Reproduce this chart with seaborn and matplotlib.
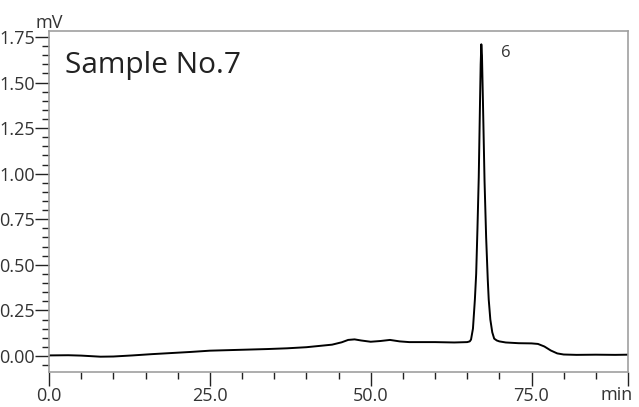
import matplotlib
matplotlib.use("Agg")
import matplotlib.pyplot as plt
import seaborn as sns
import pandas as pd
from matplotlib.ticker import MultipleLocator, FixedLocator

# ---- data ----
time_min = [0.0, 3.0, 5.0, 8.0, 10.0, 13.0, 16.0, 19.0, 22.0, 25.0, 28.0, 31.0,
            34.0, 37.0, 40.0, 42.0, 44.0, 45.5, 46.5, 47.5, 48.5, 50.0, 51.5,
            53.0, 54.5, 56.0, 60.0, 63.0, 65.0, 65.4, 65.6, 65.9, 66.2, 66.4,
            66.6, 66.8, 67.0, 67.1, 67.2, 67.3, 67.45, 67.7, 67.95, 68.2, 68.35,
            68.6, 68.9, 69.2, 69.6, 70.0, 71.0, 73.0, 75.0, 76.0, 77.0, 78.0,
            79.0, 80.0, 82.0, 85.0, 88.0, 90.0]
signal_mv = [0.003, 0.004, 0.002, -0.004, -0.003, 0.003, 0.010, 0.016, 0.022,
             0.029, 0.032, 0.035, 0.038, 0.042, 0.048, 0.055, 0.062, 0.075,
             0.088, 0.091, 0.085, 0.078, 0.082, 0.088, 0.080, 0.076, 0.076,
             0.074, 0.076, 0.080, 0.090, 0.150, 0.310, 0.450, 0.700, 0.980,
             1.400, 1.600, 1.710, 1.650, 1.400, 0.960, 0.650, 0.420, 0.310,
             0.200, 0.130, 0.095, 0.085, 0.080, 0.074, 0.070, 0.069, 0.066,
             0.052, 0.030, 0.014, 0.008, 0.006, 0.007, 0.006, 0.007]

x_major = [0, 25, 50, 75]
x_major_labels = ["0.0", "25.0", "50.0", "75.0"]
y_major = [0.00, 0.25, 0.50, 0.75, 1.00, 1.25, 1.50, 1.75]
y_major_labels = ["0.00", "0.25", "0.50", "0.75", "1.00", "1.25", "1.50", "1.75"]

peak_label = "6"
peak_label_pos = (71.0, 1.66)
sample_title = "Sample No.7"

df = pd.DataFrame({"time": time_min, "signal": signal_mv})

sns.set_style("ticks")
plt.rcParams["font.family"] = ["Open Sans", "DejaVu Sans"]

fig = plt.figure(figsize=(6.39, 4.07), dpi=100)
ax = fig.add_axes([49 / 639, 1 - 372 / 407, (628 - 49) / 639, (372 - 31) / 407])

sns.lineplot(data=df, x="time", y="signal", color="black", linewidth=1.4,
             ax=ax, estimator=None, sort=False)

ax.set_xlim(0, 90)
ax.set_ylim(-0.088, 1.783)

ax.xaxis.set_major_locator(FixedLocator(x_major + [90]))
ax.set_xticklabels(x_major_labels + [""])
ax.xaxis.set_minor_locator(MultipleLocator(5))
ax.yaxis.set_major_locator(FixedLocator(y_major))
ax.set_yticklabels(y_major_labels)
ax.yaxis.set_minor_locator(MultipleLocator(0.05))

ax.tick_params(axis="both", which="major", length=10, width=1, color="#222222",
               labelsize=13, labelcolor="#333333", direction="out", pad=2)
ax.tick_params(axis="both", which="minor", length=5, width=1, color="#222222",
               direction="out")
ax.tick_params(axis="y", which="major", pad=0)
ax.tick_params(axis="x", which="major", pad=0.5)

for side in ["left", "right", "top", "bottom"]:
    ax.spines[side].set_visible(True)
    ax.spines[side].set_color("#a0a0a0")
    ax.spines[side].set_linewidth(1.2)

ax.set_xlabel("")
ax.set_ylabel("")

ax.text(0.0, 0.998, "mV", transform=ax.transAxes, ha="center", va="bottom",
        fontsize=13, color="#333333")
ax.text(1.009, -0.04, "min", transform=ax.transAxes, ha="right", va="top",
        fontsize=13, color="#333333")
ax.text(0.028, 0.9, sample_title, transform=ax.transAxes, ha="left",
        va="center", fontsize=21.5, color="#222222")
ax.text(peak_label_pos[0], peak_label_pos[1], peak_label, ha="center",
        va="center", fontsize=12, color="#333333")

fig.savefig("out.png", dpi=100)
